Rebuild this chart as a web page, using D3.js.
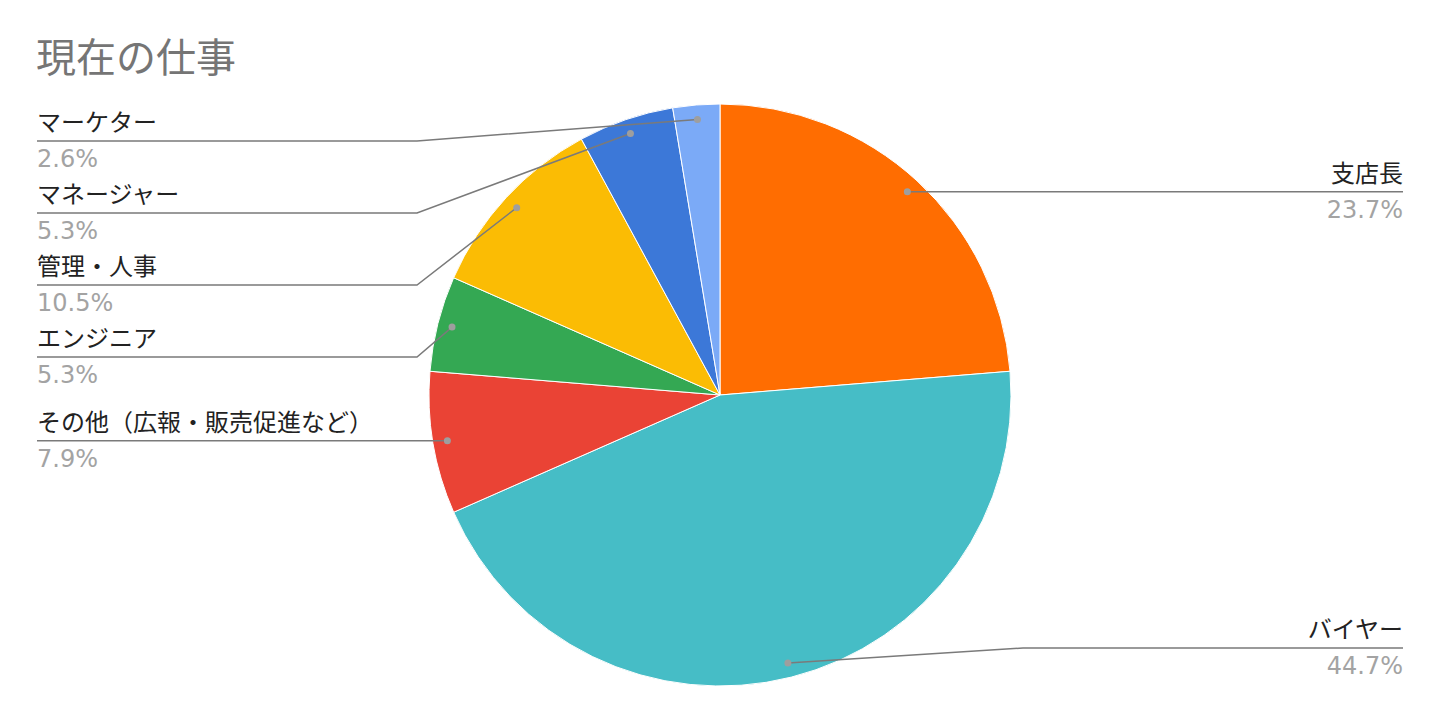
<!DOCTYPE html>
<html>
<head>
<meta charset="utf-8">
<script src="https://cdn.jsdelivr.net/npm/d3@7"></script>
<style>
  html, body { margin: 0; padding: 0; background: #fff; }
  svg { display: block; }
</style>
</head>
<body>
<svg></svg>
<script>
const width = 1440;
const height = 722;

const title = '現在の仕事';
const categories = ['支店長', 'バイヤー', 'その他（広報・販売促進など）', 'エンジニア', '管理・人事', 'マネージャー', 'マーケター'];
const shares = [23.7, 44.7, 7.9, 5.3, 10.5, 5.3, 2.6];
const colors = ['#ff6d01', '#46bdc6', '#ea4335', '#34a853', '#fbbc04', '#3c78d8', '#7baaf7'];

const cx = 720;
const cy = 395;
const radius = 291;
const labelGap = 72;
const leftX = 37;
const rightX = 1403;

const data = categories.map((c, i) => ({ name: c, value: shares[i], color: colors[i] }));

const svg = d3.select('svg')
  .attr('width', width)
  .attr('height', height);

// ====================================
// Title
// ====================================
svg.append('text')
  .text(title)
  .attr('x', 36)
  .attr('y', 72)
  .attr('font-family', '"Noto Sans CJK JP", sans-serif')
  .attr('font-size', 40)
  .attr('fill', '#757575');

// ====================================
// Slices
// ====================================
const pie = d3.pie()
  .sort(null)
  .value(d => d.value);

const arcs = pie(data);

const arc = d3.arc()
  .innerRadius(0)
  .outerRadius(radius);

const g = svg.append('g')
  .attr('transform', `translate(${cx}, ${cy})`);

g.selectAll('path')
  .data(arcs)
  .enter()
  .append('path')
  .attr('d', arc)
  .attr('fill', d => d.data.color)
  .attr('stroke', '#fff')
  .attr('stroke-width', 1);

// ====================================
// Labels
// ====================================
const dotArc = d3.arc()
  .innerRadius(radius * 0.95)
  .outerRadius(radius * 0.95);

arcs.forEach(d => {
  const [x, y] = dotArc.centroid(d);
  d.dot = [cx + x, cy + y];
  d.side = (d.startAngle + d.endAngle) / 2 > Math.PI ? 'left' : 'right';
});

function layout(list, minY, maxY) {
  list.sort((a, b) => a.dot[1] - b.dot[1]);
  let prev = -Infinity;
  list.forEach(d => {
    d.ly = Math.max(d.dot[1], prev + labelGap, minY);
    prev = d.ly;
  });
  let next = Infinity;
  for (let i = list.length - 1; i >= 0; i--) {
    list[i].ly = Math.min(list[i].ly, next - labelGap, maxY);
    next = list[i].ly;
  }
}

const left = arcs.filter(d => d.side === 'left');
const right = arcs.filter(d => d.side === 'right');
layout(left, 141, 648);
layout(right, 141, 648);

const labels = svg.append('g');

arcs.forEach(d => {
  const isLeft = d.side === 'left';
  const endX = isLeft ? leftX : rightX;
  const bendX = isLeft ? cx - radius - 12 : cx + radius + 12;
  const pts = Math.abs(d.ly - d.dot[1]) < 1
    ? [d.dot, [endX, d.ly]]
    : [d.dot, [bendX, d.ly], [endX, d.ly]];

  labels.append('path')
    .attr('d', d3.line()(pts))
    .attr('fill', 'none')
    .attr('stroke', '#7a7a7a')
    .attr('stroke-width', 1.5);

  labels.append('circle')
    .attr('cx', d.dot[0])
    .attr('cy', d.dot[1])
    .attr('r', 3.5)
    .attr('fill', '#9e9e9e');

  labels.append('text')
    .text(d.data.name)
    .attr('x', endX)
    .attr('y', d.ly - 10)
    .attr('text-anchor', isLeft ? 'start' : 'end')
    .attr('font-family', '"Noto Sans CJK JP", sans-serif')
    .attr('font-size', 24)
    .attr('fill', '#222');

  labels.append('text')
    .text(d3.format('.1f')(d.data.value) + '%')
    .attr('x', endX)
    .attr('y', d.ly + 26)
    .attr('text-anchor', isLeft ? 'start' : 'end')
    .attr('font-family', '"DejaVu Sans", sans-serif')
    .attr('font-size', 24)
    .attr('fill', '#a3a3a3');
});
</script>
</body>
</html>
